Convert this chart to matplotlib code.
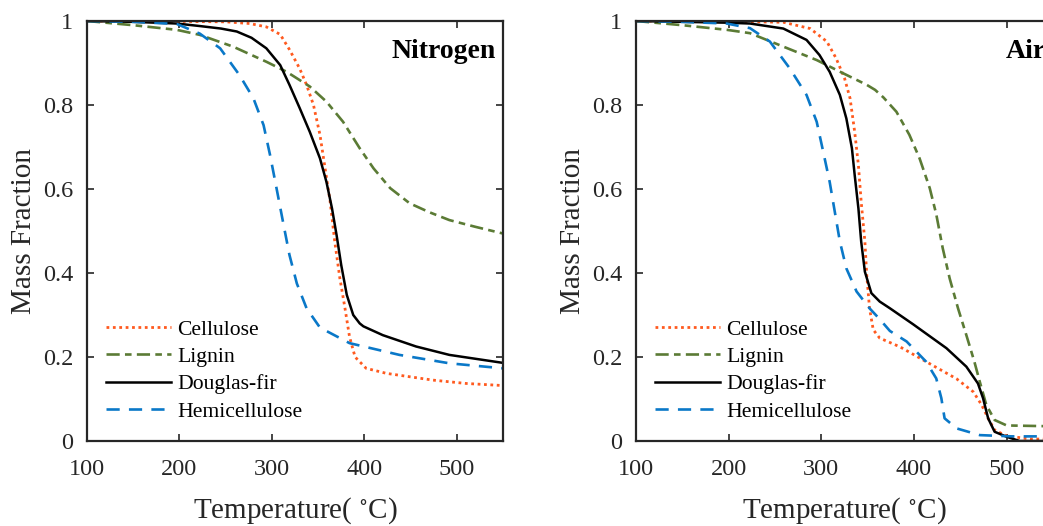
import numpy as np
import matplotlib
matplotlib.use("Agg")
import matplotlib.pyplot as plt

plt.rcParams["font.family"] = ["Liberation Serif", "DejaVu Serif"]
plt.rcParams["mathtext.fontset"] = "stix"

# ---- Nitrogen atmosphere ----
n2_cell_T = [100, 200, 250, 276, 294, 309, 319, 330, 337.5, 345, 352, 357, 363, 368, 373.5, 379, 384, 390, 402, 424, 474, 510, 550]
n2_cell_m = [1.0, 0.999, 0.998, 0.994, 0.986, 0.968, 0.932, 0.887, 0.848, 0.8, 0.729, 0.657, 0.57, 0.475, 0.388, 0.317, 0.248, 0.2, 0.173, 0.161, 0.145, 0.137, 0.132]

n2_lig_T = [100, 150, 197, 222, 258, 294, 316, 341, 359, 377, 395, 410, 428, 449, 470, 492, 520, 550]
n2_lig_m = [1.0, 0.99, 0.979, 0.967, 0.939, 0.903, 0.879, 0.844, 0.808, 0.76, 0.697, 0.649, 0.602, 0.566, 0.545, 0.526, 0.51, 0.494]

n2_df_T = [100, 150, 197, 222, 245, 262, 278, 294, 309, 319, 330, 341, 352, 359, 365, 370, 375, 381, 388, 395, 399, 420, 456, 492, 550]
n2_df_m = [1.0, 0.998, 0.994, 0.988, 0.982, 0.975, 0.96, 0.935, 0.895, 0.848, 0.793, 0.736, 0.673, 0.617, 0.554, 0.49, 0.419, 0.348, 0.3, 0.28, 0.273, 0.252, 0.225, 0.205, 0.186]

n2_hemi_T = [100, 150, 197, 222, 244, 265, 280, 291, 298, 305, 312, 319, 327, 337.5, 352, 384, 438, 492, 550]
n2_hemi_m = [1.0, 0.998, 0.993, 0.97, 0.935, 0.871, 0.816, 0.752, 0.681, 0.602, 0.522, 0.443, 0.375, 0.316, 0.27, 0.233, 0.205, 0.185, 0.173]

# ---- Air atmosphere ----
air_cell_T = [100, 200, 259, 288, 306, 316, 325, 331, 336, 340, 343, 347, 349, 352, 356, 363, 385, 417, 446, 464, 473, 480, 487, 500, 525, 550]
air_cell_m = [1.0, 0.999, 0.997, 0.982, 0.951, 0.911, 0.864, 0.816, 0.736, 0.657, 0.57, 0.475, 0.395, 0.316, 0.265, 0.245, 0.224, 0.184, 0.148, 0.117, 0.086, 0.054, 0.026, 0.012, 0.005, 0.004]

air_lig_T = [100, 150, 198, 223, 259, 295, 324, 349, 358, 367, 381, 395, 406, 417, 424, 431, 438.5, 447.5, 456.5, 465, 471, 478, 487, 500, 550]
air_lig_m = [1.0, 0.99, 0.979, 0.971, 0.939, 0.907, 0.875, 0.848, 0.836, 0.818, 0.784, 0.729, 0.673, 0.602, 0.54, 0.459, 0.387, 0.316, 0.252, 0.19, 0.141, 0.086, 0.05, 0.037, 0.035]

air_df_T = [100, 150, 198, 223, 259, 284, 298, 309, 320, 327, 333, 336, 340, 343, 347, 354, 363, 374, 399, 435, 456.5, 469, 474.5, 480, 487, 500, 514, 550]
air_df_m = [1.0, 0.998, 0.996, 0.994, 0.982, 0.955, 0.919, 0.879, 0.824, 0.768, 0.697, 0.633, 0.554, 0.475, 0.403, 0.352, 0.332, 0.316, 0.278, 0.221, 0.177, 0.137, 0.102, 0.054, 0.022, 0.01, 0.0, 0.0]

air_hemi_T = [100, 150, 198, 223, 244.5, 266, 284, 295, 302, 309, 314.5, 320, 327, 338, 352, 363, 374, 392, 413, 424, 429.5, 433, 446, 471, 506, 550]
air_hemi_m = [1.0, 0.998, 0.994, 0.983, 0.951, 0.887, 0.824, 0.76, 0.689, 0.617, 0.546, 0.475, 0.411, 0.356, 0.316, 0.29, 0.262, 0.237, 0.189, 0.149, 0.102, 0.054, 0.03, 0.014, 0.011, 0.011]

series_labels = ["Cellulose", "Lignin", "Douglas-fir", "Hemicellulose"]
panel_titles = ["Nitrogen", "Air"]
x_ticks = [100, 200, 300, 400, 500]
y_ticks = [0, 0.2, 0.4, 0.6, 0.8, 1]
y_tick_labels = ["0", "0.2", "0.4", "0.6", "0.8", "1"]

c_cell = "#FF5A1F"
c_lig = "#5B7B35"
c_df = "#000000"
c_hemi = "#0A78C8"
axis_col = "#262626"

W, H = 1043, 526
fig = plt.figure(figsize=(W / 100, H / 100), dpi=100)

def px_axes(x0, x1, y0, y1):
    return fig.add_axes([x0 / W, 1 - y1 / H, (x1 - x0) / W, (y1 - y0) / H])

ax_left = px_axes(87, 503, 21, 441)
ax_right = px_axes(636, 1053, 21, 441)

panels = [
    (ax_left, (n2_cell_T, n2_cell_m), (n2_lig_T, n2_lig_m), (n2_df_T, n2_df_m), (n2_hemi_T, n2_hemi_m)),
    (ax_right, (air_cell_T, air_cell_m), (air_lig_T, air_lig_m), (air_df_T, air_df_m), (air_hemi_T, air_hemi_m)),
]

for (ax, cell, lig, df, hemi), title in zip(panels, panel_titles):
    ax.plot(cell[0], cell[1], color=c_cell, lw=2.0, linestyle=(0, (1, 1.3)), label=series_labels[0])
    ax.plot(lig[0], lig[1], color=c_lig, lw=1.9, linestyle=(0, (5, 2, 2.5, 2)), label=series_labels[1])
    ax.plot(df[0], df[1], color=c_df, lw=1.8, linestyle="-", label=series_labels[2])
    ax.plot(hemi[0], hemi[1], color=c_hemi, lw=1.9, linestyle=(0, (5, 3.5)), label=series_labels[3])

    ax.set_xlim(100, 550)
    ax.set_ylim(0, 1)
    ax.set_xticks(x_ticks)
    ax.set_yticks(y_ticks)
    ax.set_yticklabels(y_tick_labels)
    ax.tick_params(direction="in", length=5, width=1.2, top=True, right=True,
                   labelsize=17.5, colors=axis_col)
    ax.tick_params(axis="x", pad=13)
    ax.tick_params(axis="y", pad=10)
    for s in ax.spines.values():
        s.set_linewidth(1.6)
        s.set_color(axis_col)

    ax.set_xlabel(r"Temperature( $^{\circ}$C)", fontsize=21, color=axis_col, labelpad=11)
    ax.set_ylabel("Mass Fraction", fontsize=21, color=axis_col, labelpad=4)

    ax.text(0.983, 0.958, title, transform=ax.transAxes, ha="right", va="top",
            fontsize=20, fontweight="bold", color="black")

    ax.legend(loc="lower left", bbox_to_anchor=(0.045, 0.046), frameon=False,
              fontsize=15.6, handlelength=3.0, handletextpad=0.3,
              labelspacing=0.33, borderpad=0, borderaxespad=0)

fig.savefig("out.png", dpi=100)
